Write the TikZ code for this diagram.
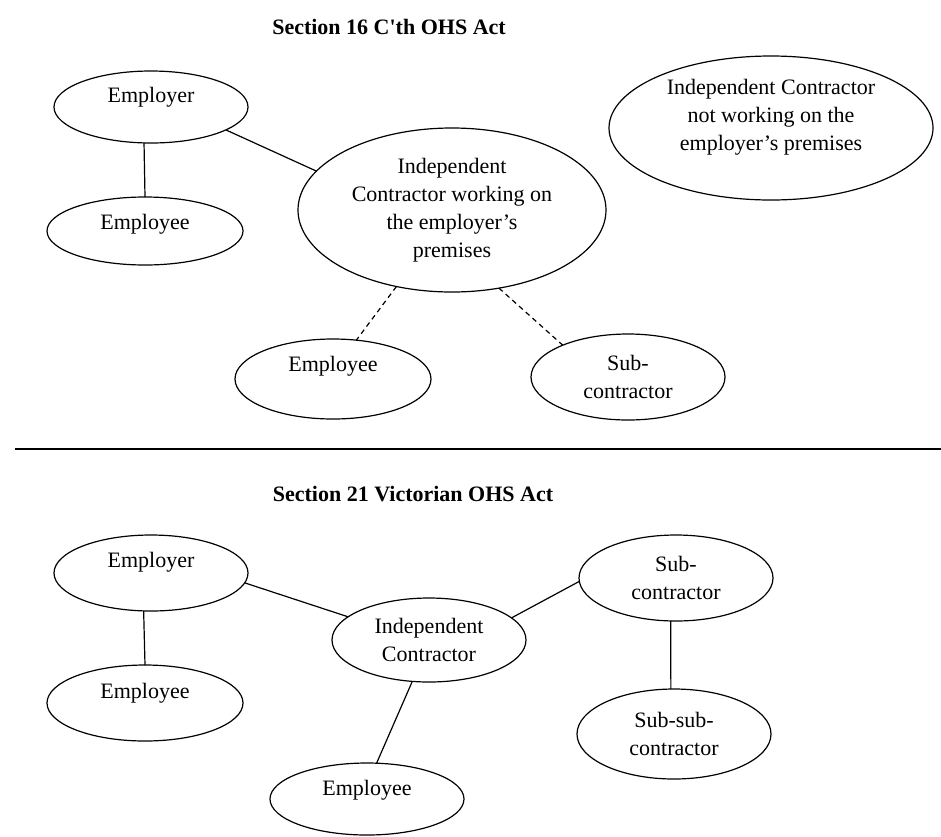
\documentclass[tikz,border=0pt]{standalone}
\usepackage{fontspec}
\setmainfont{Liberation Serif}
\usetikzlibrary{shapes.geometric}

\begin{document}
\begin{tikzpicture}[x=1pt, y=-1pt, line width=1.2pt,
    font=\fontsize{22}{28}\selectfont,
    bubble/.style={ellipse, draw, align=center, inner sep=1pt, outer sep=0pt},
    lifted/.style={bubble, text depth=#1},
    heading/.style={font=\fontsize{22}{28}\selectfont\bfseries},
    dashlink/.style={dash pattern=on 5pt off 4pt}]
  \useasboundingbox (0,0) rectangle (941,836);

  %% ── Top: Section 16 C'th OHS Act ─────────────────────────
  \node[heading] (t16) at (389,27) {Section 16 C\textquotesingle th OHS Act};
  \node[lifted=25pt, minimum width=194pt, minimum height=72pt] (er1) at (151,107) {Employer};
  \node[lifted=19pt, minimum width=196pt, minimum height=68pt] (ee1) at (145,231) {Employee};
  \node[bubble, minimum width=308pt, minimum height=164pt] (ic1) at (452,210)
    {Independent\\Contractor working on\\the employer’s\\premises};
  \node[lifted=27pt, minimum width=324pt, minimum height=144pt] (icx) at (771,128)
    {Independent Contractor\\not working on the\\employer’s premises};
  \node[lifted=31pt, minimum width=196pt, minimum height=80pt] (ee2) at (333,379) {Employee};
  \node[bubble, minimum width=194pt, minimum height=86pt] (sc1) at (628,377) {Sub-\\contractor};
  %% links
  \draw (er1.-101) -- (ee1.north);
  \draw (er1.-17) -- (ic1.164);
  \draw[dashlink] (ic1.-126) -- (ee2.59);
  \draw[dashlink] (ic1.-59) -- (sc1.154);

  %% ── Divider ───────────────────────────────────────────────
  \draw[line width=2.6pt] (15,449) -- (941,449);

  %% ── Bottom: Section 21 Victorian OHS Act ─────────────────
  \node[heading] (t21) at (413,494) {Section 21 Victorian OHS Act};
  \node[lifted=27pt, minimum width=194pt, minimum height=76pt] (er2) at (151,573) {Employer};
  \node[lifted=25pt, minimum width=196pt, minimum height=76pt] (ee3) at (145,703) {Employee};
  \node[bubble, minimum width=194pt, minimum height=84pt] (ic2) at (429,640) {Independent\\Contractor};
  \node[lifted=23pt, minimum width=194pt, minimum height=72pt] (ee4) at (367,799) {Employee};
  \node[bubble, minimum width=194pt, minimum height=86pt] (sc2) at (676,578) {Sub-\\contractor};
  \node[bubble, minimum width=194pt, minimum height=90pt] (ssc) at (674,734) {Sub-sub-\\contractor};
  %% links
  \draw (er2.-101) -- (ee3.north);
  \draw (er2.-6) -- (ic2.164);
  \draw (ic2.-112) -- (ee4.75);
  \draw (ic2.15) -- (sc2.182);
  \draw (sc2.-97) -- (ssc.94);
\end{tikzpicture}
\end{document}
